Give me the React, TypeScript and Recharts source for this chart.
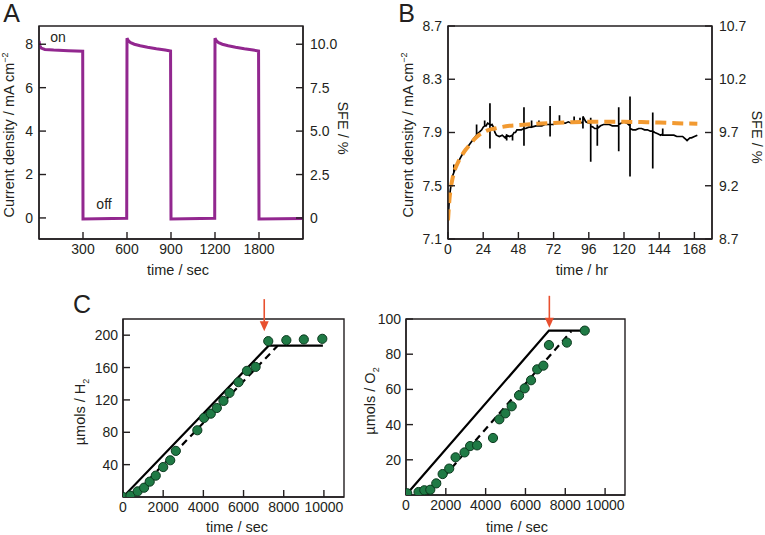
import React from 'react';
import { ComposedChart, Line, XAxis, YAxis, Scatter, ReferenceDot, ReferenceArea } from 'recharts';

const FONT = '"Liberation Sans", Arial, Helvetica, sans-serif';
const INK = '#231f20';
const PURPLE = '#92278f';
const ORANGE = '#f29a31';
const GREEN = '#1f7a45';
const RED = '#e8502f';

// ---- panel A : chopped light, current density vs time
const timeA = [0, 5, 15, 40, 100, 200, 298, 300, 598, 600, 610, 625, 650, 690, 740, 800, 860, 897, 900, 1198,
  1200, 1210, 1225, 1250, 1290, 1340, 1400, 1460, 1497, 1500, 1800];
const currentA = [8.15, 7.95, 7.82, 7.76, 7.73, 7.7, 7.68, -0.05, -0.02, 8.28, 8.15, 8.07, 8.0, 7.93, 7.86, 7.79, 7.73, 7.69, -0.05, -0.02,
  8.28, 8.15, 8.07, 8.0, 7.93, 7.86, 7.79, 7.73, 7.69, -0.05, -0.03];
const ticksA = [300, 600, 900, 1200, 1500];
const tickLabelsA = ['300', '600', '900', '1200', '1800'];
const leftTicksA = [0, 2, 4, 6, 8];
const sfeTicksA = [0, 2.5, 5, 7.5, 10];
const sfeLabelsA = ['0', '2.5', '5.0', '7.5', '10.0'];

// ---- panel B : 168 h stability
const timeB = [
  0, 0.5, 1, 2, 3,
  4, 4, 4, 5, 6,
  8, 10, 12, 14, 16, 18,
  19.5, 19.5, 19.5, 21, 23, 24,
  25, 25, 25, 26, 27,
  28.6, 28.6, 28.6, 28.6, 30, 31,
  32, 33, 35, 37, 39,
  40, 40, 40, 42, 44, 44, 44,
  45, 46, 47, 48, 50,
  51.8, 51.8, 51.8, 51.8, 53, 55,
  57, 57, 57, 60, 62, 62, 62, 64, 66, 68,
  69.6, 69.6, 69.6, 69.6, 72, 74,
  76, 76, 76, 78, 80, 82, 84,
  86, 86, 86, 88, 90, 90, 90,
  92, 92, 92, 94, 96,
  97.3, 97.3, 97.3, 97.3, 99, 100,
  101.8, 101.8, 101.8, 101.8, 104, 106,
  108, 110, 112, 114,
  116.4, 116.4, 116.4, 116.4, 118, 120, 122,
  124.1, 124.1, 124.1, 124.1, 126, 128, 130,
  132, 134, 136, 138,
  139.6, 139.6, 139.6, 139.6, 141, 143, 145,
  146.4, 146.4, 146.4, 148, 150, 152, 154,
  156, 158, 160, 161, 162, 163,
  164, 165, 166, 168, 170,
];
const currentB = [
  7.24, 7.33, 7.42, 7.5, 7.57,
  7.6, 7.66, 7.6, 7.63, 7.66,
  7.7, 7.74, 7.77, 7.8, 7.83, 7.86,
  7.88, 7.96, 7.88, 7.9, 7.92, 7.94,
  7.95, 7.99, 7.95, 7.95, 7.97,
  7.96, 8.12, 7.78, 7.95, 7.96, 7.94,
  7.9, 7.88, 7.87, 7.88, 7.86,
  7.88, 7.84, 7.88, 7.87, 7.88, 7.84, 7.88,
  7.9, 7.9, 7.92, 7.92, 7.92,
  7.93, 8.09, 7.8, 7.93, 7.93, 7.94,
  7.94, 7.99, 7.94, 7.95, 7.95, 7.99, 7.95, 7.95, 7.96, 7.96,
  7.96, 8.1, 7.87, 7.96, 7.96, 7.97,
  7.97, 8.03, 7.97, 7.97, 7.97, 7.98, 7.97,
  7.98, 8.02, 7.98, 7.98, 7.98, 8.01, 7.98,
  7.97, 7.93, 8.02, 7.98, 7.97,
  7.97, 8.01, 7.68, 7.95, 7.94, 7.93,
  7.93, 7.96, 7.8, 7.93, 7.95, 7.96,
  7.96, 7.96, 7.95, 7.95,
  7.95, 8.09, 7.76, 7.96, 7.97, 7.98, 7.97,
  7.95, 8.17, 7.57, 7.93, 7.92, 7.92, 7.93,
  7.93, 7.92, 7.92, 7.91,
  7.91, 8.05, 7.63, 7.91, 7.9, 7.89, 7.88,
  7.89, 7.93, 7.88, 7.88, 7.88, 7.88, 7.88,
  7.87, 7.87, 7.87, 7.86, 7.85, 7.84,
  7.85, 7.86, 7.86, 7.87, 7.88,
];
const fitTimeB = [0, 1, 2, 3, 5, 7, 9, 12, 15, 18, 21, 24, 28, 32, 36, 42, 48, 60, 72, 84, 96, 108, 120, 132, 144, 156, 170];
const fitB = [7.24, 7.4, 7.49, 7.55, 7.63, 7.68, 7.72, 7.77, 7.81, 7.85, 7.88, 7.9, 7.92, 7.93, 7.94, 7.95, 7.955, 7.965, 7.972, 7.977,
  7.98, 7.98, 7.98, 7.978, 7.975, 7.97, 7.965];
const ticksB = [0, 24, 48, 72, 96, 120, 144, 168];
const leftTicksB = [7.1, 7.5, 7.9, 8.3, 8.7];
const sfeTicksB = [8.7, 9.2, 9.7, 10.2, 10.7];

// ---- panel C : gas evolution
const h2Time = [0, 370, 730, 1050, 1330, 1630, 2000, 2350, 2630, 3700, 4030, 4370, 4670, 5000, 5300, 5750, 6170, 6600, 7230, 8130, 9000, 9920];
const h2Umol = [0, 1.6, 7, 11.5, 19, 26.4, 37, 45.4, 57, 82.5, 97.7, 103, 110, 118.8, 128.7, 141.9, 155.9, 160.8, 192.6, 193.8, 194.7, 195.5];
const h2TheoryTime = [0, 7250, 9950];
const h2Theory = [0, 187, 187];
const h2FitTime = [450, 7700];
const h2Fit = [0, 187];
const h2Arrow = { x: 7030, y: 205 };
const h2Ticks = [40, 80, 120, 160, 200];

const o2Time = [60, 630, 920, 1220, 1520, 1840, 2170, 2490, 2940, 3220, 3570, 4370, 4690, 4990, 5310, 5680, 5960, 6280, 6590, 6900, 7180, 8080, 8980];
const o2Umol = [1, 1.7, 2.7, 3, 6.6, 11.9, 15, 21.4, 24.2, 27.8, 28.2, 32.4, 43, 46.4, 50.4, 56.6, 60.6, 65.2, 71.4, 73.5, 85.2, 86.6, 93.4];
const o2TheoryTime = [0, 7180, 8950];
const o2Theory = [0, 93.4, 93.4];
const o2FitTime = [1100, 8300];
const o2Fit = [0, 93];
const o2Arrow = { x: 7200, y: 95 };
const o2Ticks = [20, 40, 60, 80, 100];
const ticksC = [0, 2000, 4000, 6000, 8000, 10000];

const zip = (xs: number[], ys: number[]) => xs.map((x, i) => ({ x, y: ys[i] }));

const tickStyle = { fill: INK, fontSize: 14, fontFamily: FONT };
const axisCommon = {
  stroke: INK,
  strokeWidth: 1.4,
  tickSize: -7,
  interval: 0 as const,
  allowDataOverflow: true,
  tick: tickStyle,
};

const Txt = ({ x, y, rot = 0, size = 14.5, children }: any) => (
  <div
    style={{
      position: 'absolute',
      left: x,
      top: y,
      transform: `translate(-50%, -50%) rotate(${rot}deg)`,
      whiteSpace: 'nowrap',
      fontSize: size,
      fontWeight: 400,
      lineHeight: 1,
      fontFamily: FONT,
      color: INK,
    }}
  >
    {children}
  </div>
);

const Dot = (p: any) => (
  <circle cx={p.cx} cy={p.cy} r={4.6} fill={GREEN} stroke="#0c3a1f" strokeWidth={1} />
);

const Arrow = (p: any) => (
  <g>
    <line x1={p.cx} y1={p.cy - 32} x2={p.cx} y2={p.cy - 8} stroke={RED} strokeWidth={1.6} />
    <path d={`M${p.cx - 4.5},${p.cy - 10} L${p.cx + 4.5},${p.cy - 10} L${p.cx},${p.cy} Z`} fill={RED} />
  </g>
);

// closed box round the plot area
const Frame = ({ x, y }: { x: number[]; y: number[] }) => (
  <ReferenceArea x1={x[0]} x2={x[1]} y1={y[0]} y2={y[1]} fill="none" fillOpacity={0} stroke={INK} strokeWidth={1.4} ifOverflow="visible" />
);

const PanelA = () => (
  <ComposedChart width={360} height={285} margin={{ top: 26, right: 0, bottom: 0, left: 0 }} data={zip(timeA, currentA)}>
    <XAxis dataKey="x" type="number" domain={[0, 1800]} ticks={ticksA} height={46} tickMargin={12}
      tickFormatter={(v: number) => tickLabelsA[ticksA.indexOf(v)]} {...axisCommon} />
    <YAxis type="number" domain={[-0.97, 8.84]} ticks={leftTicksA} width={39} tickMargin={13} {...axisCommon} />
    <YAxis yAxisId="r" orientation="right" type="number" domain={[-1.21, 11.05]} ticks={sfeTicksA} width={57} tickMargin={14}
      tickFormatter={(v: number) => sfeLabelsA[sfeTicksA.indexOf(v)]} {...axisCommon} />
    {Frame({ x: [0, 1800], y: [-0.97, 8.84] })}
    <Line dataKey="y" type="linear" stroke={PURPLE} strokeWidth={3} dot={false} isAnimationActive={false} />
  </ComposedChart>
);

const PanelB = () => (
  <ComposedChart width={385} height={285} margin={{ top: 26, right: 0, bottom: 0, left: 0 }}>
    <XAxis dataKey="x" type="number" domain={[0, 180]} ticks={ticksB} height={46} tickMargin={12} {...axisCommon} />
    <YAxis type="number" domain={[7.1, 8.7]} ticks={leftTicksB} width={68} tickMargin={13}
      tickFormatter={(v: number) => v.toFixed(1)} {...axisCommon} />
    <YAxis yAxisId="r" orientation="right" type="number" domain={[8.7, 10.7]} ticks={sfeTicksB} width={53} tickMargin={14}
      tickFormatter={(v: number) => v.toFixed(1)} {...axisCommon} />
    {Frame({ x: [0, 180], y: [7.1, 8.7] })}
    <Line data={zip(timeB, currentB)} dataKey="y" type="linear" stroke="#000" strokeWidth={1.7} dot={false} isAnimationActive={false} />
    <Line data={zip(fitTimeB, fitB)} dataKey="y" type="monotone" stroke={ORANGE} strokeWidth={4} strokeDasharray="11 6"
      dot={false} isAnimationActive={false} />
  </ComposedChart>
);

const PanelC = ({ w, left, right, xh, yMax, yTicks, pts, theory, fit, arrow }: any) => (
  <ComposedChart width={w} height={240} margin={{ top: 29, right, bottom: 0, left: 0 }}>
    <XAxis dataKey="x" type="number" domain={[0, 11000]} ticks={ticksC} height={xh} tickMargin={12} {...axisCommon} />
    <YAxis type="number" domain={[0, yMax]} ticks={yTicks} width={left} tickMargin={12} {...axisCommon} />
    {Frame({ x: [0, 11000], y: [0, yMax] })}
    <Line data={theory} dataKey="y" type="linear" stroke="#000" strokeWidth={2.2} dot={false} isAnimationActive={false} />
    <Line data={fit} dataKey="y" type="linear" stroke="#000" strokeWidth={2.2} strokeDasharray="7 5" dot={false} isAnimationActive={false} />
    <Scatter data={pts} dataKey="y" shape={Dot} isAnimationActive={false} />
    <ReferenceDot x={arrow.x} y={arrow.y} ifOverflow="visible" shape={Arrow} />
  </ComposedChart>
);

export default function App() {
  return (
    <div style={{ position: 'absolute', left: 0, top: 0, width: 765, height: 535, background: '#fff', overflow: 'hidden' }}>
      <div style={{ position: 'absolute', left: 0, top: 0 }}>
        <PanelA />
      </div>
      <div style={{ position: 'absolute', left: 380, top: 0 }}>
        <PanelB />
      </div>
      <div style={{ position: 'absolute', left: 60, top: 290 }}>
        <PanelC w={300} left={63} right={16} xh={33} yMax={220} yTicks={h2Ticks} pts={zip(h2Time, h2Umol)}
          theory={zip(h2TheoryTime, h2Theory)} fit={zip(h2FitTime, h2Fit)} arrow={h2Arrow} />
      </div>
      <div style={{ position: 'absolute', left: 360, top: 290 }}>
        <PanelC w={280} left={46} right={15} xh={35} yMax={100} yTicks={o2Ticks} pts={zip(o2Time, o2Umol)}
          theory={zip(o2TheoryTime, o2Theory)} fit={zip(o2FitTime, o2Fit)} arrow={o2Arrow} />
      </div>

      <Txt x={11.5} y={13} size={25}>A</Txt>
      <Txt x={406.5} y={13} size={25}>B</Txt>
      <Txt x={82} y={304} size={25}>C</Txt>

      <Txt x={58} y={37} size={14}>on</Txt>
      <Txt x={104} y={204} size={14}>off</Txt>

      <Txt x={9} y={135} rot={-90}>Current density / mA cm<sup style={{ fontSize: 9 }}>−2</sup></Txt>
      <Txt x={343} y={128} rot={90}>SFE / %</Txt>
      <Txt x={178} y={270}>time / sec</Txt>

      <Txt x={408} y={135} rot={-90}>Current density / mA cm<sup style={{ fontSize: 9 }}>−2</sup></Txt>
      <Txt x={757} y={137} rot={90}>SFE / %</Txt>
      <Txt x={582} y={270}>time / hr</Txt>

      <Txt x={82} y={412} rot={-90}>µmols / H<sub style={{ fontSize: 9 }}>2</sub></Txt>
      <Txt x={237} y={527}>time / sec</Txt>
      <Txt x={372} y={401} rot={-90}>µmols / O<sub style={{ fontSize: 9 }}>2</sub></Txt>
      <Txt x={517} y={527}>time / sec</Txt>
    </div>
  );
}
